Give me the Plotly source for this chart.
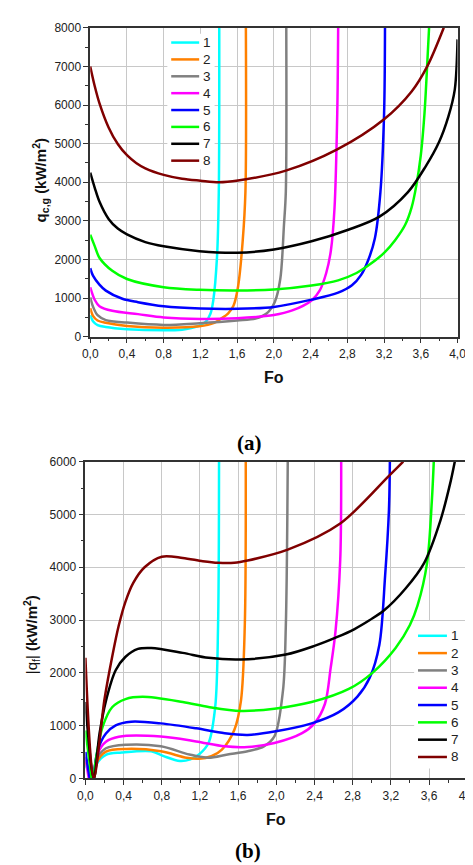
import plotly.graph_objects as go

names = ["1", "2", "3", "4", "5", "6", "7", "8"]
colors = ["#00FFFF", "#FF8000", "#808080", "#FF00FF", "#0000FF", "#00FF00", "#000000", "#800000"]

# ---- panel (a): q_c,g vs Fo ----
fo_a1 = [0, 0.03, 0.08, 0.17, 0.4, 0.8, 1.0, 1.1, 1.2, 1.26, 1.31, 1.34, 1.38, 1.40, 1.405]
q_a1 = [560, 400, 300, 250, 195, 165, 180, 225, 300, 390, 600, 940, 2040, 3750, 8000]
fo_a2 = [0, 0.03, 0.08, 0.17, 0.4, 0.8, 1.19, 1.35, 1.43, 1.50, 1.56, 1.61, 1.66, 1.69, 1.695]
q_a2 = [740, 540, 420, 360, 280, 235, 270, 360, 476, 600, 800, 1300, 2470, 3750, 8000]
fo_a3 = [0, 0.03, 0.08, 0.17, 0.4, 0.8, 1.19, 1.6, 1.8, 1.92, 2.01, 2.07, 2.11, 2.13, 2.135]
q_a3 = [1020, 780, 556, 430, 365, 306, 349, 420, 470, 600, 900, 1500, 2900, 3750, 8000]
fo_a4 = [0, 0.05, 0.1, 0.24, 0.52, 0.8, 1.2, 1.6, 2.0, 2.2, 2.41, 2.50, 2.57, 2.62, 2.66, 2.69, 2.70]
q_a4 = [1280, 950, 790, 670, 585, 500, 460, 480, 560, 680, 940, 1200, 1650, 2220, 3320, 5780, 8000]
fo_a5 = [0, 0.03, 0.1, 0.17, 0.35, 0.52, 0.8, 1.2, 1.6, 2.0, 2.41, 2.7, 2.85, 2.95, 3.03, 3.1, 3.16, 3.2, 3.21]
q_a5 = [1775, 1580, 1350, 1194, 982, 895, 790, 731, 722, 772, 960, 1140, 1330, 1600, 2000, 2550, 3745, 5780, 8000]
fo_a6 = [0, 0.05, 0.1, 0.24, 0.4, 0.8, 1.19, 1.6, 2.0, 2.41, 2.7, 2.9, 3.05, 3.2, 3.32, 3.43, 3.50, 3.55, 3.60, 3.64, 3.67, 3.69]
q_a6 = [2640, 2340, 2046, 1707, 1495, 1282, 1215, 1197, 1223, 1325, 1460, 1650, 1880, 2170, 2500, 2900, 3350, 3900, 4700, 5780, 7060, 8000]
fo_a7 = [0, 0.05, 0.1, 0.2, 0.3, 0.4, 0.6, 0.8, 1.19, 1.6, 2.0, 2.41, 2.81, 3.15, 3.46, 3.65, 3.8, 3.9, 3.97, 4.0]
q_a7 = [4250, 3850, 3500, 3050, 2800, 2650, 2450, 2340, 2216, 2173, 2260, 2470, 2770, 3110, 3745, 4400, 5050, 5700, 6400, 7700]
fo_a8 = [0, 0.05, 0.1, 0.2, 0.3, 0.4, 0.5, 0.6, 0.8, 1.0, 1.2, 1.4, 1.61, 2.13, 2.69, 3.2, 3.5, 3.67, 3.85]
q_a8 = [7000, 6480, 6050, 5420, 4990, 4700, 4500, 4360, 4190, 4090, 4040, 4000, 4045, 4300, 4850, 5630, 6350, 7000, 8000]

# ---- panel (b): |q_f| vs Fo ----
fo_b1 = [0, 0.09, 0.115, 0.215, 0.38, 0.69, 0.82, 0.99, 1.1, 1.19, 1.29, 1.36, 1.39, 1.40]
q_b1 = [250, 0, 261, 447, 490, 515, 422, 329, 360, 453, 670, 1354, 2905, 6000]
fo_b2 = [0, 0.09, 0.115, 0.215, 0.43, 0.79, 1.06, 1.19, 1.32, 1.43, 1.56, 1.63, 1.67, 1.68]
q_b2 = [300, 0, 292, 509, 559, 515, 391, 372, 420, 546, 918, 1477, 2905, 6000]
fo_b3 = [0, 0.09, 0.115, 0.215, 0.43, 0.79, 1.09, 1.29, 1.49, 1.70, 1.87, 1.98, 2.07, 2.10, 2.12]
q_b3 = [350, 0, 354, 571, 639, 608, 453, 391, 453, 515, 608, 795, 1663, 2905, 6000]
fo_b4 = [0, 0.035, None, 0.085, 0.13, 0.215, 0.35, 0.79, 1.16, 1.46, 1.70, 1.98, 2.27, 2.40, 2.51, 2.57, 2.62, 2.67, 2.68]
q_b4 = [400, 0, None, 0, 478, 696, 790, 794, 701, 608, 596, 670, 857, 1043, 1415, 2098, 2780, 4146, 6000]
fo_b5 = [0, 0.045, None, 0.085, 0.13, 0.215, 0.317, 0.48, 0.79, 1.16, 1.46, 1.70, 1.98, 2.37, 2.65, 2.85, 2.98, 3.08, 3.14, 3.18, 3.19]
q_b5 = [500, 0, None, 0, 540, 851, 1006, 1074, 1043, 950, 857, 825, 888, 1043, 1250, 1550, 1912, 2533, 3836, 5075, 6000]
fo_b6 = [0, 0.065, None, 0.085, 0.115, 0.18, 0.28, 0.42, 0.6, 1.02, 1.29, 1.63, 1.98, 2.37, 2.76, 3.01, 3.25, 3.40, 3.48, 3.58, 3.63, 3.65]
q_b6 = [910, 0, None, 0, 423, 976, 1348, 1503, 1545, 1447, 1354, 1279, 1322, 1447, 1695, 2005, 2471, 2905, 3277, 4084, 5261, 6000]
fo_b7 = [0, 0.087, 0.148, 0.215, 0.317, 0.418, 0.55, 0.69, 1.02, 1.29, 1.63, 2.1, 2.4, 2.64, 2.82, 2.98, 3.13, 3.35, 3.55, 3.72, 3.82, 3.87]
q_b7 = [1450, 0, 850, 1470, 2050, 2300, 2453, 2471, 2378, 2284, 2253, 2346, 2510, 2680, 2830, 3000, 3184, 3588, 4084, 4888, 5574, 6000]
fo_b8 = [0, 0.087, 0.2, 0.28, 0.35, 0.42, 0.5, 0.62, 0.8, 1.02, 1.23, 1.39, 1.56, 1.70, 2.12, 2.67, 3.18, 3.33]
q_b8 = [2285, 0, 1500, 2300, 2900, 3350, 3700, 4000, 4200, 4177, 4115, 4084, 4084, 4127, 4333, 4829, 5730, 6000]

x_tickvals = [0, 0.4, 0.8, 1.2, 1.6, 2.0, 2.4, 2.8, 3.2, 3.6, 4.0]
x_ticktext = ["0,0", "0,4", "0,8", "1,2", "1,6", "2,0", "2,4", "2,8", "3,2", "3,6", "4,0"]
ya_tickvals = [0, 1000, 2000, 3000, 4000, 5000, 6000, 7000, 8000]
yb_tickvals = [0, 1000, 2000, 3000, 4000, 5000, 6000]

series_a = [(fo_a1, q_a1), (fo_a2, q_a2), (fo_a3, q_a3), (fo_a4, q_a4),
            (fo_a5, q_a5), (fo_a6, q_a6), (fo_a7, q_a7), (fo_a8, q_a8)]
series_b = [(fo_b1, q_b1), (fo_b2, q_b2), (fo_b3, q_b3), (fo_b4, q_b4),
            (fo_b5, q_b5), (fo_b6, q_b6), (fo_b7, q_b7), (fo_b8, q_b8)]

W, H = 473, 865


def px(xp):
    return xp / W


def py(yp):
    return 1 - yp / H


fig = go.Figure()
for i, (xs, ys) in enumerate(series_a):
    fig.add_trace(go.Scatter(x=xs, y=ys, mode="lines", name=names[i], showlegend=False,
                             line=dict(color=colors[i], width=2.5, shape="spline", smoothing=0.9),
                             xaxis="x", yaxis="y"))
for i, (xs, ys) in enumerate(series_b):
    fig.add_trace(go.Scatter(x=xs, y=ys, mode="lines", name=names[i], showlegend=False,
                             line=dict(color=colors[i], width=2.5, shape="spline", smoothing=0.9),
                             xaxis="x2", yaxis="y2", connectgaps=False))

tickfont = dict(family="Liberation Sans, Arial", size=12, color="#222")
common_x = dict(range=[0, 4], tickvals=x_tickvals, ticktext=x_ticktext, ticks="outside", ticklen=5,
                tickwidth=1.2, tickcolor="#333", showline=True, linecolor="#333", linewidth=1.5,
                mirror=True, showgrid=True, gridcolor="#c8c8c8", gridwidth=1, zeroline=False,
                tickfont=tickfont, ticklabeloverflow="allow",
                minor=dict(ticks="outside", ticklen=3, dtick=0.2, tick0=0, tickcolor="#333", showgrid=False))
common_y = dict(ticks="outside", ticklen=5, tickwidth=1.2, tickcolor="#333", showline=True,
                linecolor="#333", linewidth=1.5, mirror=True, showgrid=True, gridcolor="#c8c8c8",
                gridwidth=1, zeroline=False, tickfont=tickfont,
                minor=dict(ticks="outside", ticklen=3, dtick=500, tick0=0, tickcolor="#333", showgrid=False))

fig.update_layout(
    width=W, height=H, margin=dict(l=0, r=0, t=0, b=0),
    paper_bgcolor="white", plot_bgcolor="white", showlegend=False,
    xaxis=dict(domain=[px(77), px(458)], anchor="y", **common_x),
    yaxis=dict(domain=[py(327), py(13)], anchor="x", range=[0, 8000], tickvals=ya_tickvals,
               ticktext=[str(v) for v in ya_tickvals], **common_y),
    xaxis2=dict(domain=[px(72), px(468)], anchor="y2", **common_x),
    yaxis2=dict(domain=[py(776), py(454)], anchor="x2", range=[0, 6000], tickvals=yb_tickvals,
                ticktext=[str(v) for v in yb_tickvals], **common_y),
)

# ---- legends (drawn as layout decorations) ----
shapes = []
annotations = []
leg_font = dict(family="Liberation Sans, Arial", size=13.5, color="#222")
legend_specs = [
    # (box x0, box x1, box y0, box y1, line x0, line x1, first y, step)
    (157, 206, 19, 157, 161, 190, 28.0, 17.15),
    (413, 467, 616, 766, 417, 447, 631.0, 17.6),
]
for bx0, bx1, by0, by1, lx0, lx1, y0, step in legend_specs:
    shapes.append(dict(type="rect", xref="paper", yref="paper", x0=px(bx0), x1=px(bx1),
                       y0=py(by1), y1=py(by0), fillcolor="white", line=dict(width=0), layer="above"))
    for i, nm in enumerate(names):
        yy = y0 + step * i
        shapes.append(dict(type="line", xref="paper", yref="paper", x0=px(lx0), x1=px(lx1),
                           y0=py(yy), y1=py(yy), line=dict(color=colors[i], width=2.5), layer="above"))
        annotations.append(dict(text=nm, x=px(lx1 + 2), y=py(yy), xanchor="left", yanchor="middle",
                                font=leg_font))

ann_font = dict(family="Liberation Sans, Arial", size=15, color="#111")
annotations += [
    dict(text="<b>q<sub>c,g</sub> (kW/m<sup>2</sup>)</b>", x=px(25), y=py(168), textangle=-90, font=ann_font,
         xanchor="center", yanchor="middle"),
    dict(text="|q<sub>f</sub>| <b>(kW/m<sup>2</sup>)</b>", x=px(16), y=py(630), textangle=-90, font=ann_font,
         xanchor="center", yanchor="middle"),
    dict(text="<b>Fo</b>", x=px(268), y=py(368), xanchor="center", yanchor="middle",
         font=dict(family="Liberation Sans, Arial", size=16, color="#111")),
    dict(text="<b>Fo</b>", x=px(270), y=py(818), xanchor="center", yanchor="middle",
         font=dict(family="Liberation Sans, Arial", size=16, color="#111")),
    dict(text="<b>(a)</b>", x=px(242), y=py(435), xanchor="center", yanchor="middle",
         font=dict(family="Liberation Serif, Times New Roman", size=21, color="#000")),
    dict(text="<b>(b)</b>", x=px(241), y=py(850), xanchor="center", yanchor="middle",
         font=dict(family="Liberation Serif, Times New Roman", size=21, color="#000")),
]
for a in annotations:
    a.update(xref="paper", yref="paper", showarrow=False)
fig.update_layout(shapes=shapes, annotations=annotations)

fig.write_html("out.html")
